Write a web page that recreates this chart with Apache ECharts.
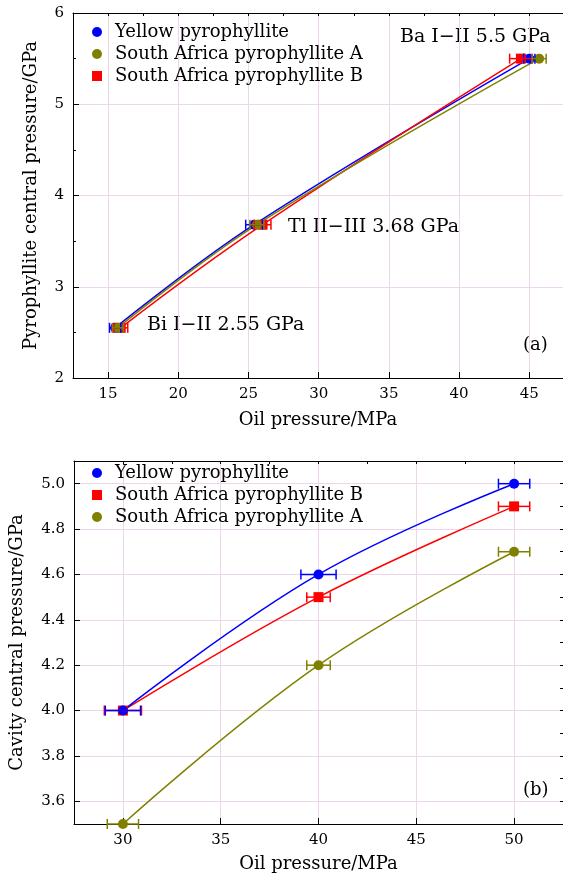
<!DOCTYPE html>
<html>
<head>
<meta charset="utf-8">
<script src="https://cdn.jsdelivr.net/npm/echarts@6/dist/echarts.min.js"></script>
<style>
  html, body { margin: 0; padding: 0; background: #fff; }
  #chart { width: 563px; height: 876px; }
</style>
</head>
<body>
<div id="chart"></div>
<script>
// (a) oil pressure vs pyrophyllite central pressure
var topPressure = [2.55, 3.68, 5.5];
var yellowTopOil = [15.5, 25.4, 45.0];
var yellowTopErr = [0.4, 0.6, 0.4];
var saATopOil = [15.7, 25.6, 45.7];
var saATopErr = [0.4, 0.5, 0.5];
var saBTopOil = [15.9, 26.0, 44.4];
var saBTopErr = [0.5, 0.6, 0.8];

// (b) oil pressure vs cavity central pressure
var bottomOil = [30, 40, 50];
var yellowBottom = [4.0, 4.6, 5.0];
var yellowBottomErr = [0.9, 0.9, 0.8];
var saBBottom = [4.0, 4.5, 4.9];
var saBBottomErr = [0.95, 0.6, 0.8];
var saABottom = [3.5, 4.2, 4.7];
var saABottomErr = [0.8, 0.6, 0.8];

var names = ["Yellow pyrophyllite", "South Africa pyrophyllite A", "South Africa pyrophyllite B"];
var FONT = "DejaVu Serif";
var BLUE = "#0000ff", OLIVE = "#808000", RED = "#ff0000";
var GRIDCOLOR = "#ecd6ec";

function zip(xs, ys) {
  return xs.map(function (x, i) { return [x, ys[i]]; });
}
function zipErr(xs, ys, es) {
  return xs.map(function (x, i) { return [x, ys[i], es[i]]; });
}

function errorBars(color) {
  return function (params, api) {
    var x = api.value(0), y = api.value(1), e = api.value(2);
    var a = api.coord([x - e, y]);
    var b = api.coord([x + e, y]);
    var st = { stroke: color, lineWidth: 1.5 };
    return {
      type: "group",
      children: [
        { type: "line", shape: { x1: a[0], y1: a[1], x2: b[0], y2: b[1] }, style: st },
        { type: "line", shape: { x1: a[0], y1: a[1] - 5, x2: a[0], y2: a[1] + 5 }, style: st },
        { type: "line", shape: { x1: b[0], y1: b[1] - 5, x2: b[0], y2: b[1] + 5 }, style: st }
      ]
    };
  };
}

function lineSeries(name, data, color, symbol, xi, yi) {
  return {
    name: name,
    type: "line",
    xAxisIndex: xi,
    yAxisIndex: yi,
    data: data,
    smooth: 0.4,
    symbol: symbol,
    symbolSize: 10,
    color: color,
    itemStyle: { color: color },
    lineStyle: { color: color, width: 1.5 },
    z: 3
  };
}

function errSeries(data, color, xi, yi) {
  return {
    type: "custom",
    xAxisIndex: xi,
    yAxisIndex: yi,
    data: data,
    renderItem: errorBars(color),
    z: 4
  };
}

var labelStyle = { color: "#000", fontFamily: FONT, fontSize: 15 };
var nameStyle = { color: "#000", fontFamily: FONT, fontSize: 18 };

function majorX(grid, min, max, gap) {
  return {
    type: "value", gridIndex: grid, min: min, max: max,
    minInterval: 5, maxInterval: 5,
    name: "Oil pressure/MPa", nameLocation: "middle", nameGap: gap,
    nameTextStyle: nameStyle,
    axisLine: { show: true, lineStyle: { color: "#000", width: 1 } },
    axisTick: { show: true, inside: true, length: 6, lineStyle: { color: "#000" } },
    axisLabel: Object.assign({ margin: 9, showMinLabel: false, showMaxLabel: false }, labelStyle),
    splitLine: { show: true, lineStyle: { color: GRIDCOLOR, width: 1 } }
  };
}
function minorX(grid, min, max) {
  return {
    type: "value", gridIndex: grid, min: min, max: max, interval: 2.5,
    axisLine: { show: false },
    axisTick: { show: true, inside: true, length: 3, lineStyle: { color: "#000" } },
    axisLabel: { show: false },
    splitLine: { show: false }
  };
}
function topFrame(grid, min, max) {
  return {
    type: "value", gridIndex: grid, position: "top", min: min, max: max,
    axisLine: { show: true, lineStyle: { color: "#000", width: 1 } },
    axisTick: { show: false },
    axisLabel: { show: false },
    splitLine: { show: false }
  };
}

var legendText = { color: "#000", fontFamily: FONT, fontSize: 18, lineHeight: 16, padding: [0, 0, 0, 8] };

var option = {
  animation: false,
  backgroundColor: "#fff",
  grid: [
    { left: 73, top: 13, right: 0, height: 365 },
    { left: 74, top: 461, right: 0, height: 363 }
  ],
  legend: [
    {
      left: 92, top: 23, padding: 0, orient: "vertical", itemWidth: 10, itemHeight: 10, itemGap: 4,
      textStyle: legendText,
      data: [
        { name: names[0], icon: "circle" },
        { name: names[1], icon: "circle" },
        { name: names[2], icon: "rect" }
      ]
    },
    {
      left: 92, top: 464, padding: 0, orient: "vertical", itemWidth: 10, itemHeight: 10, itemGap: 4,
      textStyle: legendText,
      data: [
        { name: names[0], icon: "circle" },
        { name: names[2], icon: "rect" },
        { name: names[1], icon: "circle" }
      ]
    }
  ],
  xAxis: [
    majorX(0, 12.5, 47.4, 33),
    minorX(0, 12.5, 47.4),
    majorX(1, 27.5, 52.5, 31),
    minorX(1, 27.5, 52.5),
    topFrame(0, 12.5, 47.4),
    topFrame(1, 27.5, 52.5)
  ],
  yAxis: [
    {
      type: "value", gridIndex: 0, min: 2, max: 6, interval: 1,
      name: "Pyrophyllite central pressure/GPa", nameLocation: "middle", nameGap: 33,
      nameTextStyle: nameStyle,
      axisLine: { show: true, lineStyle: { color: "#000", width: 1 } },
      axisTick: { show: true, inside: true, length: 6, lineStyle: { color: "#000" } },
      minorTick: { show: true, splitNumber: 2, length: 3, lineStyle: { color: "#000" } },
      axisLabel: Object.assign({ margin: 9 }, labelStyle),
      splitLine: { show: true, lineStyle: { color: GRIDCOLOR, width: 1 } }
    },
    {
      type: "value", gridIndex: 1, min: 3.5, max: 5.1,
      minInterval: 0.2, maxInterval: 0.2,
      name: "Cavity central pressure/GPa", nameLocation: "middle", nameGap: 48,
      nameTextStyle: nameStyle,
      axisLine: { show: true, lineStyle: { color: "#000", width: 1 } },
      axisTick: { show: true, inside: true, length: 6, lineStyle: { color: "#000" } },
      axisLabel: Object.assign({
        margin: 9, showMinLabel: false, showMaxLabel: false,
        formatter: function (v) { return v.toFixed(1); }
      }, labelStyle),
      splitLine: { show: true, lineStyle: { color: GRIDCOLOR, width: 1 } }
    },
    {
      type: "value", gridIndex: 1, min: 3.5, max: 5.1, interval: 0.1,
      axisLine: { show: false },
      axisTick: { show: true, inside: true, length: 3, lineStyle: { color: "#000" } },
      axisLabel: { show: false },
      splitLine: { show: false }
    }
  ],
  series: [
    lineSeries(names[0], zip(yellowTopOil, topPressure), BLUE, "circle", 0, 0),
    errSeries(zipErr(yellowTopOil, topPressure, yellowTopErr), BLUE, 0, 0),
    lineSeries(names[2], zip(saBTopOil, topPressure), RED, "rect", 0, 0),
    errSeries(zipErr(saBTopOil, topPressure, saBTopErr), RED, 0, 0),
    lineSeries(names[1], zip(saATopOil, topPressure), OLIVE, "circle", 0, 0),
    errSeries(zipErr(saATopOil, topPressure, saATopErr), OLIVE, 0, 0),

    errSeries(zipErr(bottomOil, saBBottom, saBBottomErr), RED, 2, 1),
    lineSeries(names[2], zip(bottomOil, saBBottom), RED, "rect", 2, 1),
    lineSeries(names[0], zip(bottomOil, yellowBottom), BLUE, "circle", 2, 1),
    errSeries(zipErr(bottomOil, yellowBottom, yellowBottomErr), BLUE, 2, 1),
    lineSeries(names[1], zip(bottomOil, saABottom), OLIVE, "circle", 2, 1),
    errSeries(zipErr(bottomOil, saABottom, saABottomErr), OLIVE, 2, 1)
  ],
  graphic: [
    { type: "text", left: 400, top: 28, style: { text: "Ba I\u2212II 5.5 GPa", font: "19px " + FONT, fill: "#000" } },
    { type: "text", left: 288, top: 218, style: { text: "Tl II\u2212III 3.68 GPa", font: "19px " + FONT, fill: "#000" } },
    { type: "text", left: 147, top: 316, style: { text: "Bi I\u2212II 2.55 GPa", font: "19px " + FONT, fill: "#000" } },
    { type: "text", left: 523, top: 336, style: { text: "(a)", font: "18px " + FONT, fill: "#000" } },
    { type: "text", left: 523, top: 781, style: { text: "(b)", font: "18px " + FONT, fill: "#000" } }
  ]
};

var chart = echarts.init(document.getElementById("chart"), null, { renderer: "canvas" });
chart.setOption(option);
</script>
</body>
</html>
